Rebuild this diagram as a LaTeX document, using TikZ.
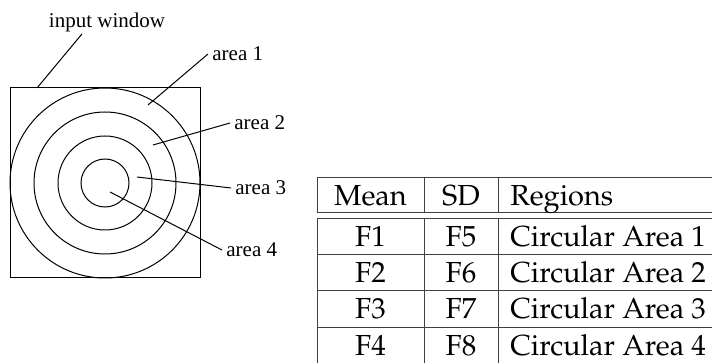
\documentclass[tikz,border=0pt]{standalone}
\usepackage{fontspec}
\newfontfamily\lblfont{Liberation Serif}
\usetikzlibrary{positioning,calc}
% palatino for the table entries
\newcommand{\tabfont}{\usefont{OT1}{ppl}{m}{n}\fontsize{14.5}{17}\selectfont}
\tikzset{
  win/.style={line width=0.5pt},
  ring/.style={line width=0.5pt},
  lead/.style={line width=0.5pt},
  lbl/.style={font={\lblfont\fontsize{10.5}{12}\selectfont},inner xsep=2pt,inner ysep=1pt},
  rule/.style={line width=0.5pt,black!75},
  cell/.style={font=\tabfont,inner sep=0pt,text height=10pt,text depth=0pt},
}

\begin{document}
\begin{tikzpicture}[x=0.5pt,y=-0.5pt]
  \useasboundingbox (0,0) rectangle (712,363);
  % input window with the four concentric areas
  \draw[win] (10,88) rectangle (200,278);
  \coordinate (c) at (105,183);
  \foreach \r in {95,71,47,24}
    \draw[ring] (c) circle[radius=\r];
  % points picked inside the window / each area
  \coordinate (w) at (37,88);
  \coordinate (p1) at (148,105);
  \coordinate (p2) at (153,145);
  \coordinate (p3) at (137,177);
  \coordinate (p4) at (110,192);
  \node[lbl] (iw) at (107,22) {input window};
  \node[lbl,anchor=west] (a1) at (208,54) {area 1};
  \node[lbl,anchor=west] (a2) at (230,123) {area 2};
  \node[lbl,anchor=west] (a3) at (231,188) {area 3};
  \node[lbl,anchor=west] (a4) at (222,250) {area 4};
  \draw[lead] ($(iw.south)+(-25,0)$) -- (w);
  \foreach \k in {1,...,4}
    \draw[lead] (a\k.west) -- (p\k);

  % feature table
  \def\xa{317}\def\xb{424}\def\xc{498}\def\xe{712}
  \foreach \y in {178,213,219,255,291,327}
    \draw[rule] (\xa,\y) -- (\xe,\y);
  \foreach \x in {\xa,\xb,\xc}{
    \draw[rule] (\x,178) -- (\x,213);
    \draw[rule] (\x,219) -- (\x,363);
  }
  \node[cell] (mean) at (370.5,195.5) {Mean};
  \node[cell] (sd) at (461,195.5) {SD};
  \node[cell,anchor=west] (reg) at (510,195.5) {Regions};
  \foreach \i/\y in {1/237,2/273,3/309,4/345}{
    \pgfmathtruncatemacro{\j}{\i+4}
    \node[cell] (m\i) at (370.5,\y) {F\i};
    \node[cell] (s\i) at (461,\y) {F\j};
    \node[cell,anchor=west] (r\i) at (510,\y) {Circular Area \i};
  }
\end{tikzpicture}
\end{document}
